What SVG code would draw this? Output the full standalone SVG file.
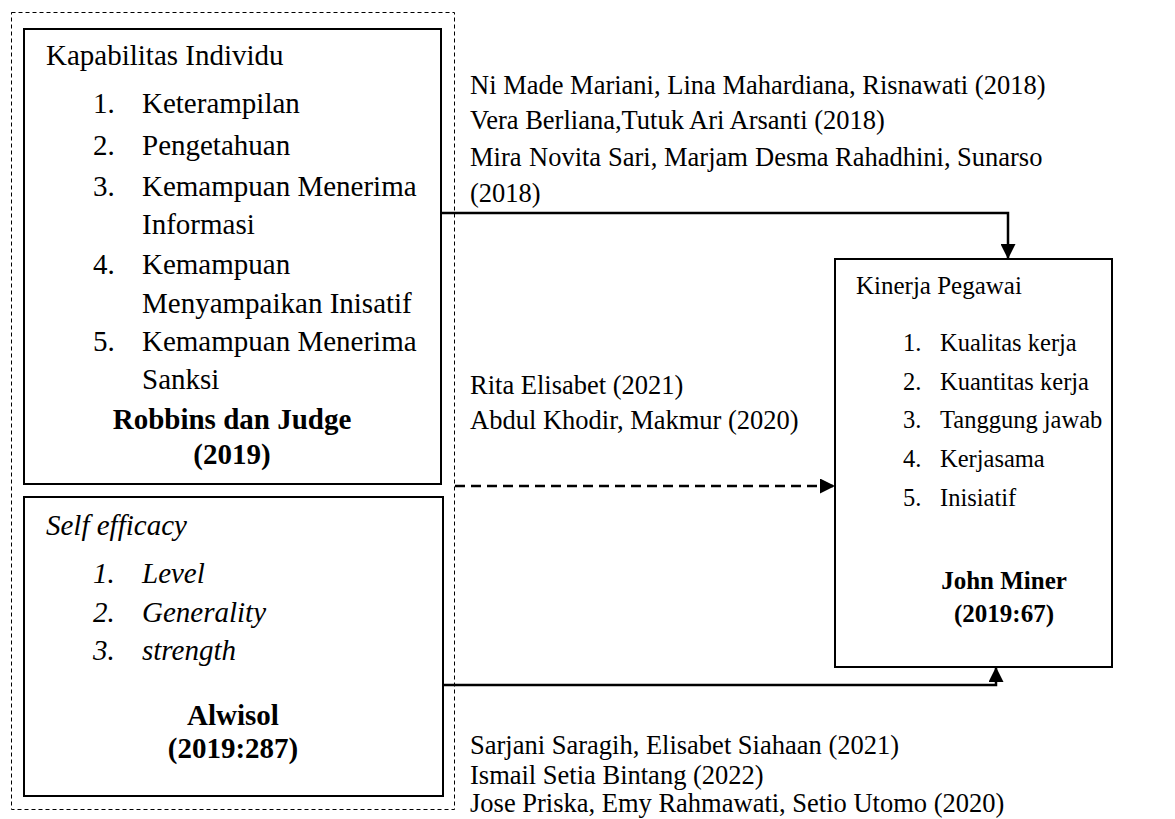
<svg xmlns="http://www.w3.org/2000/svg" width="1175" height="819" viewBox="0 0 1175 819">
<defs>
<style>
text{font-family:"Liberation Serif","Times New Roman",serif;font-size:29px;fill:#000}
.cit{font-size:26.5px}
.k{font-size:25px}
.ki{font-size:24.5px}
.b{font-weight:bold}
.i{font-style:italic}
.box{fill:#fff;stroke:#000;stroke-width:2}
.conn{fill:none;stroke:#000;stroke-width:2.5}
</style>
<marker id="ah" viewBox="0 0 10 10" refX="10" refY="5" markerWidth="6" markerHeight="6" markerUnits="strokeWidth" orient="auto">
<path d="M0,0 L10,5 L0,10 Z" fill="#000"/>
</marker>
</defs>
<rect width="1175" height="819" fill="#fff"/>
<rect id="outer" x="11.5" y="12.5" width="443" height="797" fill="none" stroke="#000" stroke-width="1" stroke-dasharray="4 3"/>

<g id="kapabilitas">
<rect class="box" x="24" y="29" width="417" height="455"/>
<text x="46" y="65">Kapabilitas Individu</text>
<text x="93" y="113">1.</text><text x="142" y="113">Keterampilan</text>
<text x="93" y="155">2.</text><text x="142" y="155">Pengetahuan</text>
<text x="93" y="196">3.</text><text x="142" y="196">Kemampuan Menerima</text>
<text x="142" y="234">Informasi</text>
<text x="93" y="274">4.</text><text x="142" y="274">Kemampuan</text>
<text x="142" y="313">Menyampaikan Inisatif</text>
<text x="93" y="351">5.</text><text x="142" y="351">Kemampuan Menerima</text>
<text x="142" y="389">Sanksi</text>
<text class="b" x="232" y="429" text-anchor="middle">Robbins dan Judge</text>
<text class="b" x="232" y="464" text-anchor="middle">(2019)</text>
</g>

<g id="selfefficacy">
<rect class="box" x="24" y="497" width="419" height="299"/>
<text class="i" x="46" y="535">Self efficacy</text>
<text class="i" x="93" y="583">1.</text><text class="i" x="142" y="583">Level</text>
<text class="i" x="93" y="622">2.</text><text class="i" x="142" y="622">Generality</text>
<text class="i" x="93" y="660">3.</text><text class="i" x="142" y="660">strength</text>
<text class="b" x="233" y="725" text-anchor="middle">Alwisol</text>
<text class="b" x="233" y="758" text-anchor="middle">(2019:287)</text>
</g>

<g id="kinerja">
<rect class="box" x="835" y="259" width="277" height="408"/>
<text class="k" x="856" y="294">Kinerja Pegawai</text>
<text class="ki" x="903" y="351">1.</text><text class="ki" x="940" y="351">Kualitas kerja</text>
<text class="ki" x="903" y="390">2.</text><text class="ki" x="940" y="390">Kuantitas kerja</text>
<text class="ki" x="903" y="428">3.</text><text class="ki" x="940" y="428">Tanggung jawab</text>
<text class="ki" x="903" y="467">4.</text><text class="ki" x="940" y="467">Kerjasama</text>
<text class="ki" x="903" y="506">5.</text><text class="ki" x="940" y="506">Inisiatif</text>
<text class="b k" x="1004" y="589" text-anchor="middle">John Miner</text>
<text class="b k" x="1004" y="622" text-anchor="middle">(2019:67)</text>
</g>

<g id="citations">
<text class="cit" x="470" y="94">Ni Made Mariani, Lina Mahardiana, Risnawati (2018)</text>
<text class="cit" x="470" y="129">Vera Berliana,Tutuk Ari Arsanti (2018)</text>
<text class="cit" y="166"><tspan x="470">Mira</tspan><tspan x="529">Novita</tspan><tspan x="608">Sari,</tspan><tspan x="664">Marjam</tspan><tspan x="755">Desma</tspan><tspan x="835">Rahadhini,</tspan><tspan x="957">Sunarso</tspan></text>
<text class="cit" x="470" y="202">(2018)</text>
<text class="cit" x="470" y="394">Rita Elisabet (2021)</text>
<text class="cit" x="470" y="429">Abdul Khodir, Makmur (2020)</text>
<text class="cit" x="470" y="754">Sarjani Saragih, Elisabet Siahaan (2021)</text>
<text class="cit" x="470" y="784">Ismail Setia Bintang (2022)</text>
<text class="cit" x="470" y="812">Jose Priska, Emy Rahmawati, Setio Utomo (2020)</text>
</g>

<g id="connectors">
<polyline class="conn" points="441,213 1008,213 1008,259" marker-end="url(#ah)"/>
<line class="conn" x1="455" y1="486" x2="835" y2="486" stroke-dasharray="10 6" marker-end="url(#ah)"/>
<polyline class="conn" points="443,685 996,685 996,667" marker-end="url(#ah)"/>
</g>
</svg>
